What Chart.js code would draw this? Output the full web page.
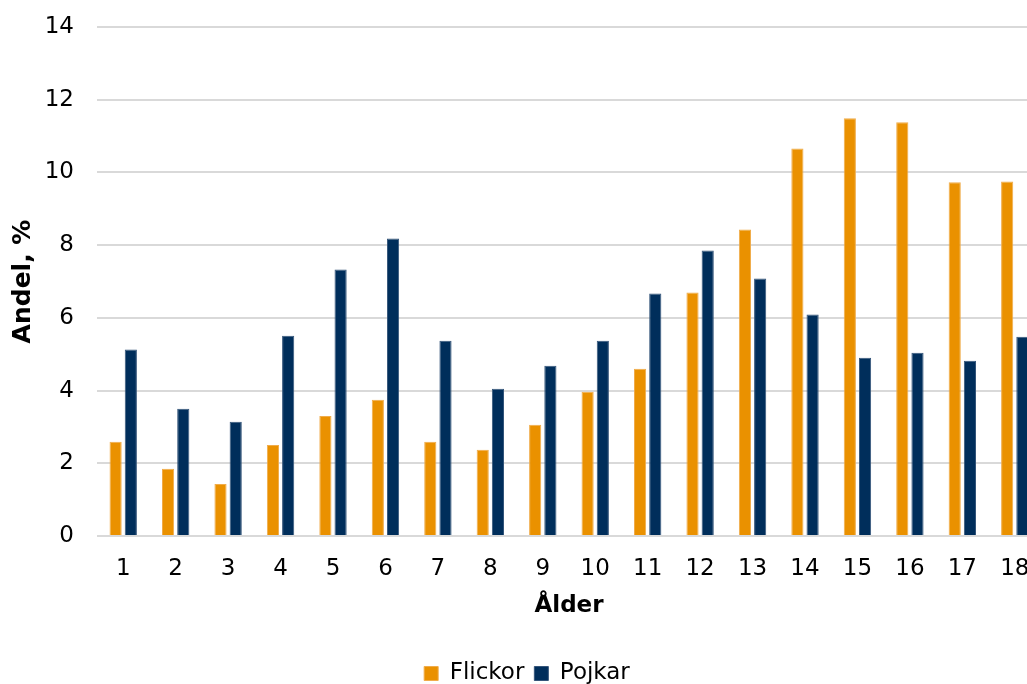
<!DOCTYPE html>
<html lang="sv">
<head>
    <meta charset="UTF-8">
    <title>Andel per ålder</title>
    <script src="https://cdn.jsdelivr.net/npm/chart.js"></script>
    <style>
        html, body {
            margin: 0;
            padding: 0;
            background: #ffffff;
            overflow: hidden;
        }
        #wrap {
            width: 1054px;
            height: 695px;
        }
    </style>
</head>
<body>
    <div id="wrap"><canvas id="chart"></canvas></div>

    <script>
        const ages = ['1', '2', '3', '4', '5', '6', '7', '8', '9', '10', '11', '12', '13', '14', '15', '16', '17', '18'];
        const flickor = [2.59, 1.85, 1.43, 2.5, 3.3, 3.75, 2.59, 2.37, 3.06, 3.97, 4.6, 6.7, 8.43, 10.66, 11.49, 11.38, 9.73, 9.75];
        const pojkar = [5.13, 3.5, 3.14, 5.51, 7.33, 8.18, 5.37, 4.05, 4.68, 5.37, 6.67, 7.85, 7.08, 6.09, 4.9, 5.04, 4.82, 5.48];

        const fontFamily = "'DejaVu Sans', Verdana, sans-serif";

        new Chart(document.getElementById('chart'), {
            type: 'bar',
            data: {
                labels: ages,
                datasets: [
                    {
                        label: 'Flickor',
                        data: flickor,
                        backgroundColor: '#ea9100',
                        borderColor: '#f0ac4a',
                        borderWidth: 1,
                        categoryPercentage: 0.58,
                        barPercentage: 0.8
                    },
                    {
                        label: 'Pojkar',
                        data: pojkar,
                        backgroundColor: '#002e5b',
                        borderColor: '#34557a',
                        borderWidth: 1,
                        categoryPercentage: 0.58,
                        barPercentage: 0.8
                    }
                ]
            },
            options: {
                responsive: true,
                maintainAspectRatio: false,
                animation: false,
                layout: {
                    padding: { top: 27, left: 13, right: 13, bottom: 0 }
                },
                plugins: {
                    tooltip: { enabled: false },
                    legend: {
                        position: 'bottom',
                        labels: {
                            color: '#000000',
                            boxWidth: 14,
                            boxHeight: 14,
                            padding: 10,
                            font: { family: fontFamily, size: 23 }
                        }
                    }
                },
                scales: {
                    x: {
                        grid: { display: false },
                        border: { display: false },
                        ticks: {
                            color: '#000000',
                            padding: 11,
                            maxRotation: 0,
                            autoSkip: false,
                            font: { family: fontFamily, size: 23 }
                        },
                        title: {
                            display: true,
                            text: 'Ålder',
                            color: '#000000',
                            padding: { top: 0, bottom: 32 },
                            font: { family: fontFamily, size: 23, weight: 'bold' }
                        },
                        afterFit: (scale) => { scale.height = 116; }
                    },
                    y: {
                        min: 0,
                        max: 14,
                        grid: {
                            color: '#d9d9d9',
                            lineWidth: 2,
                            drawTicks: false
                        },
                        border: { display: false },
                        ticks: {
                            stepSize: 2,
                            color: '#000000',
                            padding: 23,
                            font: { family: fontFamily, size: 23 }
                        },
                        title: {
                            display: true,
                            text: 'Andel, %',
                            color: '#000000',
                            padding: { top: 0, bottom: 0 },
                            font: { family: fontFamily, size: 25, weight: 'bold', lineHeight: 0.8 }
                        },
                        afterFit: (scale) => {
                            scale.width = 84;
                            // tick padding should only push labels sideways, not down from the top
                            scale.paddingTop = 10;
                            scale.paddingBottom = 10;
                        }
                    }
                }
            }
        });
    </script>
</body>
</html>
